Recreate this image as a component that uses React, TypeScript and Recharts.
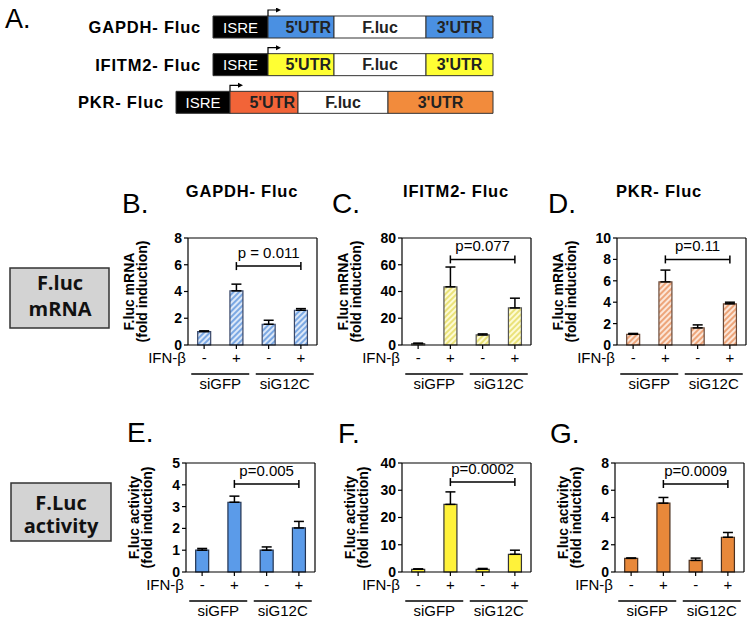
import React from 'react';
import { ComposedChart, BarChart, Bar, Line, XAxis, YAxis, ErrorBar, LabelList, Cell } from 'recharts';

const FONT = '"Liberation Sans", Arial, sans-serif';

// x categories shared by all six bar panels
const conditions = ['-', '+', '-', '+'];
const groups = ['siGFP', 'siGFP', 'siG12C', 'siG12C'];

// F.luc mRNA, fold induction (mean, SEM)
const gapdhMrna = [1.0, 4.05, 1.55, 2.6];
const gapdhMrnaErr = [0.06, 0.5, 0.3, 0.12];
const ifitm2Mrna = [1.0, 43.5, 7.5, 27.7];
const ifitm2MrnaErr = [0.4, 14.8, 0.8, 7.3];
const pkrMrna = [1.0, 5.9, 1.6, 3.85];
const pkrMrnaErr = [0.08, 1.1, 0.28, 0.15];

// F.luc activity, fold induction (mean, SEM)
const gapdhAct = [1.0, 3.2, 1.0, 2.02];
const gapdhActErr = [0.08, 0.28, 0.15, 0.3];
const ifitm2Act = [1.0, 24.8, 1.0, 6.5];
const ifitm2ActErr = [0.15, 4.6, 0.3, 1.5];
const pkrAct = [1.0, 5.05, 0.85, 2.55];
const pkrActErr = [0.03, 0.42, 0.17, 0.35];

// y ticks
const ticks8 = [0, 2, 4, 6, 8];
const ticks80 = [0, 20, 40, 60, 80];
const ticks10 = [0, 2, 4, 6, 8, 10];
const ticks5 = [0, 1, 2, 3, 4, 5];
const ticks40 = [0, 10, 20, 30, 40];

// reporter constructs (segment lengths, arbitrary units)
const constructs = ['GAPDH- Fluc', 'IFITM2- Fluc', 'PKR- Fluc'];
const leadIn = [37, 37, 0];
const isreLen = [55, 55, 54];
const utr5Len = [66, 66, 68];
const flucLen = [92, 92, 90];
const utr3Len = [67, 67, 105];
const utr5Colors = ['#4a90e2', '#ffff33', '#f26438'];
const utr3Colors = ['#4a90e2', '#ffff33', '#f28b3c'];

const AXIS_W = 72;

const CondTick = (props: any) => {
  const { x, y, payload } = props;
  return (
    <text x={x} y={y + 12} textAnchor="middle" fontSize={15} fontFamily={FONT} fill="#000">
      {payload.value}
    </text>
  );
};

const GroupTick = (props: any) => {
  const { x, y, payload } = props;
  return (
    <g>
      <line x1={x - 29} x2={x + 29} y1={y + 7} y2={y + 7} stroke="#000" strokeWidth={1.3} />
      <text x={x} y={y + 22} textAnchor="middle" fontSize={15} fontFamily={FONT} fill="#000">
        {payload.value}
      </text>
    </g>
  );
};

const IfnLabel = (props: any) => {
  const vb = props.viewBox || {};
  return (
    <text x={vb.x - 2} y={vb.y + 18} textAnchor="end" fontSize={15} fontFamily={FONT} fill="#000">
      IFN-β
    </text>
  );
};

const YLab = (props: any) => {
  const vb = props.viewBox || {};
  const right = vb.x + vb.width;
  const cy = vb.y + vb.height / 2;
  return (
    <g fontFamily={FONT} fontWeight="bold" fontSize={14} fill="#000">
      <text x={right - props.off[0]} y={cy} textAnchor="middle" transform={`rotate(-90 ${right - props.off[0]} ${cy})`}>
        {props.lines[0]}
      </text>
      <text x={right - props.off[1]} y={cy} textAnchor="middle" transform={`rotate(-90 ${right - props.off[1]} ${cy})`}>
        {props.lines[1]}
      </text>
    </g>
  );
};

const BracketDot = (props: any) => {
  const { cx, cy, index } = props;
  if ((index !== 1 && index !== 3) || cy == null) return <g key={index} />;
  return <line key={index} x1={cx} x2={cx} y1={cy - 4} y2={cy + 4} stroke="#000" strokeWidth={1.5} />;
};

const PLabel = (props: any) => {
  const { x, y, index, text } = props;
  if (index !== 2) return null;
  return (
    <text x={x} y={y - 8} textAnchor="middle" fontSize={15} fontFamily={FONT} fill="#000">
      {text}
    </text>
  );
};

function BarPanel(props: any) {
  const { values, errs, ticks, bracket, pText, fill, stroke, plotLeft, plotTop, plotH, yLines, labOff } = props;
  const data = conditions.map((c, i) => ({
    cond: c,
    group: groups[i],
    val: values[i],
    err: [0, errs[i]],
    bracket: i >= 1 ? bracket : null,
  }));
  const yMax = ticks[ticks.length - 1];
  const H = 10 + 1 + plotH + 20 + 32 + 5;
  return (
    <div style={{ position: 'absolute', left: plotLeft - AXIS_W, top: plotTop - 11 }}>
      <ComposedChart width={AXIS_W + 132} height={H} data={data} margin={{ top: 10, right: 2, left: 0, bottom: 5 }} barCategoryGap="30%">
        <XAxis xAxisId="top" orientation="top" dataKey="cond" tick={false} tickLine={false} height={1} stroke="#000" strokeWidth={1.2} />
        <XAxis dataKey="cond" interval={0} tickSize={4} height={20} stroke="#000" strokeWidth={1.2} tick={<CondTick />} label={<IfnLabel />} />
        <XAxis xAxisId="grp" dataKey="group" allowDuplicatedCategory={false} interval={0} axisLine={false} tickLine={false} tickSize={0} height={32} tick={<GroupTick />} />
        <YAxis
          domain={[0, yMax]}
          ticks={ticks}
          interval={0}
          width={AXIS_W}
          tickSize={4}
          tickMargin={2}
          stroke="#000"
          strokeWidth={1.2}
          tick={{ fontSize: 14, fontWeight: 'bold', fill: '#000', fontFamily: FONT }}
          label={<YLab lines={yLines} off={labOff} />}
        />
        <YAxis yAxisId="right" orientation="right" domain={[0, yMax]} tick={false} tickLine={false} width={1} stroke="#000" strokeWidth={1.2} />
        <Bar dataKey="val" fill={fill} stroke={stroke} strokeWidth={1.2} isAnimationActive={false}>
          <ErrorBar dataKey="err" width={5} stroke="#000" strokeWidth={1.5} />
        </Bar>
        <Line dataKey="bracket" stroke="#000" strokeWidth={1.5} dot={<BracketDot />} activeDot={false} isAnimationActive={false}>
          <LabelList dataKey="bracket" content={<PLabel text={pText} />} />
        </Line>
      </ComposedChart>
    </div>
  );
}

const SegLabel = (props: any) => {
  const { x, y, width, height, index, kind } = props;
  const mid = y + height / 2 + 5.5;
  if (kind === 'isre') {
    return (
      <g>
        <text x={x - 12} y={mid + 0.5} textAnchor="end" fontSize={16.5} fontWeight="bold" letterSpacing={0.8} fontFamily={FONT} fill="#000">
          {constructs[index]}
        </text>
        <text x={x + width / 2} y={mid} textAnchor="middle" fontSize={15} fontFamily={FONT} fill="#fff">
          ISRE
        </text>
      </g>
    );
  }
  if (kind === 'utr5') {
    return (
      <g>
        <path d={`M${x} ${y} V${y - 6} H${x + 9}`} fill="none" stroke="#000" strokeWidth={1.2} />
        <polygon points={`${x + 8},${y - 8.5} ${x + 13},${y - 6} ${x + 8},${y - 3.5}`} fill="#000" />
        <text x={x + width - 3} y={mid} textAnchor="end" fontSize={16} fontWeight="bold" fontFamily={FONT} fill="#222">
          5'UTR
        </text>
      </g>
    );
  }
  return (
    <text x={x + width / 2} y={mid} textAnchor="middle" fontSize={16} fontWeight="bold" fontFamily={FONT} fill="#222">
      {kind === 'fluc' ? 'F.luc' : "3'UTR"}
    </text>
  );
};

function Schematic() {
  const data = constructs.map((name, i) => ({
    name,
    lead: leadIn[i],
    isre: isreLen[i],
    utr5: utr5Len[i],
    fluc: flucLen[i],
    utr3: utr3Len[i],
  }));
  return (
    <div style={{ position: 'absolute', left: 0, top: 8 }}>
      <BarChart layout="vertical" width={495} height={113} data={data} margin={{ top: 0, right: 2, left: 176, bottom: 0 }} barSize={22}>
        <XAxis type="number" domain={[0, 317]} hide />
        <YAxis type="category" dataKey="name" hide />
        <Bar dataKey="lead" stackId="s" fill="none" isAnimationActive={false} />
        <Bar dataKey="isre" stackId="s" fill="#000" stroke="#333" isAnimationActive={false}>
          <LabelList dataKey="isre" content={<SegLabel kind="isre" />} />
        </Bar>
        <Bar dataKey="utr5" stackId="s" stroke="#333" isAnimationActive={false}>
          {data.map((d, i) => (
            <Cell key={d.name} fill={utr5Colors[i]} />
          ))}
          <LabelList dataKey="utr5" content={<SegLabel kind="utr5" />} />
        </Bar>
        <Bar dataKey="fluc" stackId="s" fill="#fff" stroke="#333" isAnimationActive={false}>
          <LabelList dataKey="fluc" content={<SegLabel kind="fluc" />} />
        </Bar>
        <Bar dataKey="utr3" stackId="s" stroke="#333" isAnimationActive={false}>
          {data.map((d, i) => (
            <Cell key={d.name} fill={utr3Colors[i]} />
          ))}
          <LabelList dataKey="utr3" content={<SegLabel kind="utr3" />} />
        </Bar>
      </BarChart>
    </div>
  );
}

const mrnaLab = ['F.luc mRNA', '(fold induction)'];
const actLab = ['F.luc activity', '(fold induction)'];

export default function App() {
  return (
    <div style={{ position: 'absolute', left: 0, top: 0, width: 750, height: 619, background: '#fff', overflow: 'hidden' }}>
      <svg width={0} height={0} style={{ position: 'absolute' }}>
        <defs>
          <pattern id="hatchBlue" patternUnits="userSpaceOnUse" width={4} height={4} patternTransform="rotate(45)">
            <rect width={4} height={4} fill="#dce8f8" />
            <line x1={1} y1={0} x2={1} y2={4} stroke="#5b93dc" strokeWidth={1.5} />
          </pattern>
          <pattern id="hatchYellow" patternUnits="userSpaceOnUse" width={4} height={4} patternTransform="rotate(45)">
            <rect width={4} height={4} fill="#fdfbd4" />
            <line x1={1} y1={0} x2={1} y2={4} stroke="#e4da5c" strokeWidth={1.5} />
          </pattern>
          <pattern id="hatchOrange" patternUnits="userSpaceOnUse" width={4} height={4} patternTransform="rotate(45)">
            <rect width={4} height={4} fill="#fce6d8" />
            <line x1={1} y1={0} x2={1} y2={4} stroke="#e8905a" strokeWidth={1.5} />
          </pattern>
        </defs>
      </svg>

      <svg width={750} height={619} style={{ position: 'absolute', left: 0, top: 0 }} fontFamily={FONT}>
        <text x={5} y={28} fontSize={27}>A.</text>
        <text x={122} y={213} fontSize={28}>B.</text>
        <text x={332} y={213} fontSize={28}>C.</text>
        <text x={548} y={213} fontSize={28}>D.</text>
        <text x={127} y={442} fontSize={28}>E.</text>
        <text x={338} y={443} fontSize={28}>F.</text>
        <text x={550} y={443} fontSize={28}>G.</text>
        <g fontSize={16.5} fontWeight="bold" letterSpacing={0.8} textAnchor="middle">
          <text x={242} y={197}>GAPDH- Fluc</text>
          <text x={456} y={197}>IFITM2- Fluc</text>
          <text x={659} y={197}>PKR- Fluc</text>
        </g>
        <rect x={10} y={268} width={99} height={60} fill="#d3d3d3" stroke="#333" strokeWidth={1.5} />
        <rect x={11} y={483} width={100} height={58} fill="#d3d3d3" stroke="#333" strokeWidth={1.5} />
        <g fontFamily='"Open Sans", sans-serif' fontSize={20} fontWeight="bold" textAnchor="middle" fill="#111">
          <text x={60} y={290}>F.luc</text>
          <text x={60} y={316}>mRNA</text>
          <text x={61} y={510}>F.Luc</text>
          <text x={61} y={533}>activity</text>
        </g>
      </svg>

      <Schematic />

      <BarPanel values={gapdhMrna} errs={gapdhMrnaErr} ticks={ticks8} bracket={5.9} pText="p = 0.011" fill="url(#hatchBlue)" stroke="#3a4868" plotLeft={188} plotTop={238} plotH={107} yLines={mrnaLab} labOff={[54, 41]} />
      <BarPanel values={ifitm2Mrna} errs={ifitm2MrnaErr} ticks={ticks80} bracket={64} pText="p=0.077" fill="url(#hatchYellow)" stroke="#555" plotLeft={402} plotTop={238} plotH={107} yLines={mrnaLab} labOff={[54, 41]} />
      <BarPanel values={pkrMrna} errs={pkrMrnaErr} ticks={ticks10} bracket={8} pText="p=0.11" fill="url(#hatchOrange)" stroke="#6a4a3a" plotLeft={617} plotTop={238} plotH={107} yLines={mrnaLab} labOff={[54, 41]} />
      <BarPanel values={gapdhAct} errs={gapdhActErr} ticks={ticks5} bracket={4.04} pText="p=0.005" fill="#5b9be9" stroke="#223350" plotLeft={186} plotTop={463} plotH={109} yLines={actLab} labOff={[47, 34]} />
      <BarPanel values={ifitm2Act} errs={ifitm2ActErr} ticks={ticks40} bracket={33} pText="p=0.0002" fill="#fff23a" stroke="#333" plotLeft={402} plotTop={463} plotH={109} yLines={actLab} labOff={[47, 34]} />
      <BarPanel values={pkrAct} errs={pkrActErr} ticks={ticks8} bracket={6.46} pText="p=0.0009" fill="#e8883a" stroke="#4a3020" plotLeft={615} plotTop={463} plotH={109} yLines={actLab} labOff={[47, 34]} />
    </div>
  );
}
